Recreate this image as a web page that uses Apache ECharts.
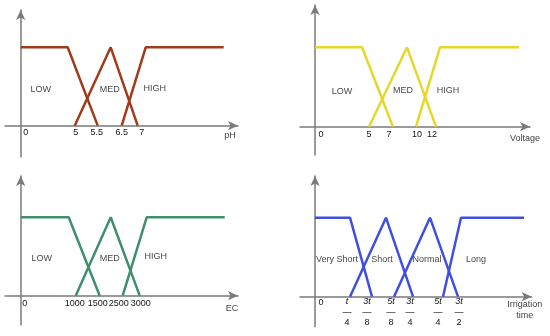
<!DOCTYPE html>
<html>
<head>
<meta charset="utf-8">
<script src="https://cdn.jsdelivr.net/npm/echarts@6/dist/echarts.min.js"></script>
<style>
  html, body { margin: 0; padding: 0; background: #fff; }
  #chart { width: 550px; height: 336px; }
</style>
</head>
<body>
<div id="chart"></div>
<script>
// schematic x units (not linear in the real value), membership 0..1 on y
const phLow = [[0, 1], [47, 1], [77, 0]]
const phMed = [[54, 0], [90, 1], [117, 0]]
const phHigh = [[101, 0], [125, 1], [203, 1]]
const phTickAt = [5, 55, 76, 101, 121]
const phTicks = ['0', '5', '5.5', '6.5', '7']

const voltLow = [[0, 1], [47, 1], [78, 0]]
const voltMed = [[54, 0], [92, 1], [121, 0]]
const voltHigh = [[101, 0], [125, 1], [204, 1]]
const voltTickAt = [6, 54, 74, 102, 117]
const voltTicks = ['0', '5', '7', '10', '12']

const ecLow = [[0, 1], [48, 1], [79, 0]]
const ecMed = [[55, 0], [90, 1], [119, 0]]
const ecHigh = [[102, 0], [126, 1], [204, 1]]
const ecTickAt = [4, 54, 77, 98, 120]
const ecTicks = ['0', '1000', '1500', '2500', '3000']

const irrVeryShort = [[0, 1], [35, 1], [57, 0]]
const irrShort = [[35, 0], [71, 1], [98, 0]]
const irrNormal = [[79, 0], [115, 1], [143, 0]]
const irrLong = [[128, 0], [146, 1], [209, 1]]
const irrTickAt = [6, 32, 52, 76, 95, 123, 144]
const irrTicks = ['0', 't/4', '3t/8', '5t/8', '3t/4', '5t/4', '3t/2']

const lmhNames = ['LOW', 'MED', 'HIGH']
const irrNames = ['Very Short', 'Short', 'Normal', 'Long']

// where the set names sit inside each panel
const phTextAt = [[20, 0.455], [89, 0.455], [134, 0.468]]
const voltTextAt = [[27, 0.44], [88, 0.462], [133, 0.462]]
const ecTextAt = [[21, 0.468], [89, 0.468], [135, 0.494]]
const irrTextAt = [[22, 0.465], [67, 0.465], [112, 0.465], [161, 0.465]]

const panels = [
  { grid: { left: 5, top: 10, width: 233, height: 147 }, x: [-15.7, 217.3], y: [-0.4, 1.476], lift: -31.3,
    sets: [phLow, phMed, phHigh], names: lmhNames, textAt: phTextAt, color: '#a03c1c',
    tickAt: phTickAt, ticks: phTicks, name: 'pH', nameGap: -8, namePad: 4, margin: 1 },
  { grid: { left: 300, top: 5, width: 230, height: 150 }, x: [-15, 215], y: [-0.356, 1.533], lift: -28.3,
    sets: [voltLow, voltMed, voltHigh], names: lmhNames, textAt: voltTextAt, color: '#e5d82a',
    tickAt: voltTickAt, ticks: voltTicks, name: 'Voltage', nameGap: -5, namePad: 6, margin: 2 },
  { grid: { left: 5, top: 176, width: 233, height: 149 }, x: [-15.7, 217.3], y: [-0.374, 1.527], lift: -29.3,
    sets: [ecLow, ecMed, ecHigh], names: lmhNames, textAt: ecTextAt, color: '#3f8f6e',
    tickAt: ecTickAt, ticks: ecTicks, name: 'EC', nameGap: -6, namePad: 7, margin: 2 },
  { grid: { left: 300, top: 176, width: 231.7, height: 150.7 }, x: [-15, 216.7], y: [-0.38, 1.528], lift: -30,
    sets: [irrVeryShort, irrShort, irrNormal, irrLong], names: irrNames, textAt: irrTextAt, color: '#3f4fe0',
    tickAt: irrTickAt, ticks: irrTicks, name: 'Irrigation\ntime', nameGap: -7, namePad: 2, margin: 0 }
]

const axisColor = '#7a7a7a'
const textColor = '#111'
const font = 'Liberation Sans, Arial, sans-serif'

let grids = [], xAxes = [], yAxes = [], series = []

panels.forEach((p, i) => {
  grids.push(Object.assign({ containLabel: false, outerBoundsMode: 'none' }, p.grid))
  xAxes.push({
    gridIndex: i,
    type: 'value',
    min: p.x[0],
    max: p.x[1],
    offset: p.lift,
    splitLine: { show: false },
    axisTick: { show: false },
    axisLine: {
      onZero: false,
      symbol: ['none', 'arrow'],
      symbolSize: [7, 10],
      lineStyle: { color: axisColor, width: 1.5 }
    },
    axisLabel: {
      customValues: p.tickAt,
      hideOverlap: false,
      showMinLabel: true,
      showMaxLabel: true,
      margin: p.margin,
      color: textColor,
      fontSize: 9,
      fontFamily: font,
      lineHeight: 11,
      formatter: (value) => {
        let t = p.ticks[p.tickAt.indexOf(value)]
        if (t === undefined) return ''
        if (t.indexOf('/') > 0) {
          let parts = t.split('/')
          return '{n|' + parts[0] + '}\n{b|—}\n{d|' + parts[1] + '}'
        }
        return t
      },
      rich: {
        n: { fontSize: 9, lineHeight: 10, fontStyle: 'italic', color: textColor, fontFamily: font },
        b: { fontSize: 9, lineHeight: 12, color: textColor, fontFamily: font },
        d: { fontSize: 9, lineHeight: 8, color: textColor, fontFamily: font }
      }
    },
    name: p.name,
    nameLocation: 'end',
    nameGap: p.nameGap,
    nameTextStyle: {
      align: 'center',
      verticalAlign: 'top',
      padding: [p.namePad, 0, 0, 0],
      color: '#444',
      fontSize: 9,
      lineHeight: 11,
      fontFamily: font
    }
  })
  yAxes.push({
    gridIndex: i,
    type: 'value',
    min: p.y[0],
    max: p.y[1],
    splitLine: { show: false },
    axisTick: { show: false },
    axisLabel: { show: false },
    axisLine: {
      onZero: true,
      symbol: ['none', 'arrow'],
      symbolSize: [7, 10],
      lineStyle: { color: axisColor, width: 1.5 }
    }
  })
  p.sets.forEach((d, k) => {
    series.push({
      name: p.names[k],
      type: 'line',
      xAxisIndex: i,
      yAxisIndex: i,
      data: d,
      symbol: 'none',
      silent: true,
      lineStyle: { color: p.color, width: 2.5 }
    })
  })
  series.push({
    type: 'scatter',
    xAxisIndex: i,
    yAxisIndex: i,
    symbolSize: 1,
    silent: true,
    itemStyle: { color: 'transparent' },
    data: p.names.map((n, k) => ({ name: n, value: p.textAt[k] })),
    label: {
      show: true,
      position: 'inside',
      formatter: '{b}',
      color: textColor,
      fontSize: 9,
      fontFamily: font
    }
  })
})

const myChart = echarts.init(document.getElementById('chart'))
myChart.setOption({
  animation: false,
  backgroundColor: '#fff',
  grid: grids,
  xAxis: xAxes,
  yAxis: yAxes,
  series: series
})
</script>
</body>
</html>
